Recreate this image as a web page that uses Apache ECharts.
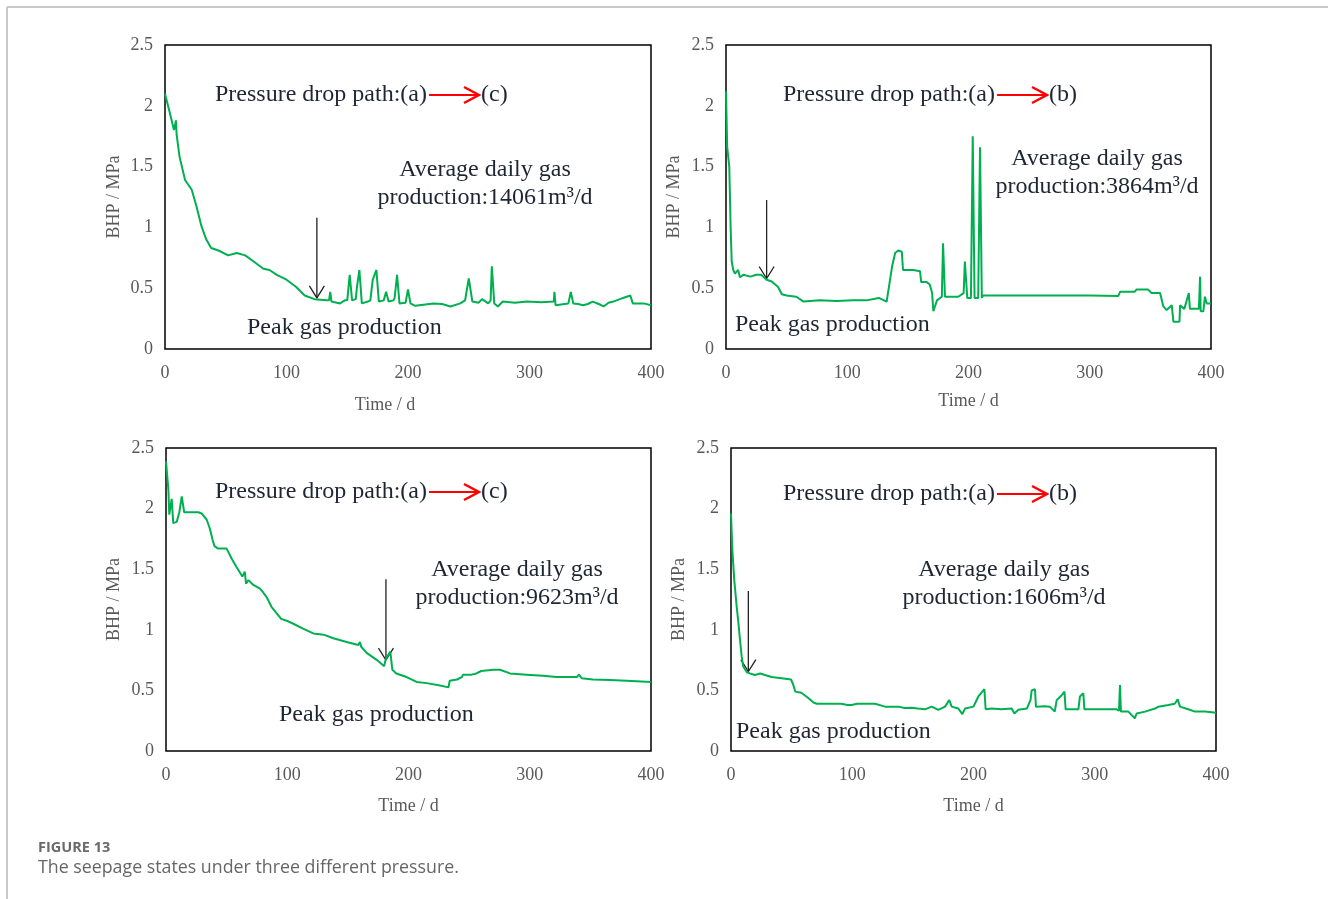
<!DOCTYPE html>
<html>
<head>
<meta charset="utf-8">
<title>BHP vs time</title>
<script src="https://cdn.jsdelivr.net/npm/echarts@6/dist/echarts.min.js"></script>
<style>
  html, body { margin: 0; padding: 0; background: #fff; }
  #chart { width: 1328px; height: 899px; }
</style>
</head>
<body>
<div id="chart"></div>
<script>
// Bottom-hole pressure (MPa) against production time (d), one array per well case.
const wellA = [[0,2.1],[4,1.94],[7.4,1.8],[9,1.88],[9.6,1.76],[12,1.58],[16.5,1.39],[22,1.31],[26,1.17],[30,1.01],[34,0.9],[38,0.83],[44,0.81],[52,0.77],[59,0.79],[66,0.77],[73,0.72],[81,0.66],[86,0.65],[92,0.61],[100,0.57],[108,0.51],[115,0.44],[123,0.41],[133,0.40],[135,0.40],[136,0.47],[137,0.39],[144,0.375],[148,0.40],[150,0.40],[152,0.61],[154,0.40],[157,0.41],[158,0.51],[160,0.65],[162,0.375],[167,0.39],[169,0.40],[171,0.57],[174,0.65],[176,0.39],[180,0.40],[182,0.47],[184,0.39],[188,0.40],[189,0.42],[191,0.61],[193,0.375],[198,0.38],[200,0.49],[202,0.375],[206,0.355],[221,0.375],[228,0.37],[235,0.35],[243,0.375],[247,0.40],[250,0.58],[253,0.39],[258,0.38],[261,0.41],[266,0.375],[268,0.40],[269,0.68],[271,0.375],[274,0.35],[278,0.39],[288,0.38],[298,0.39],[310,0.385],[320,0.39],[320.5,0.47],[321.5,0.36],[332,0.375],[334,0.47],[336,0.375],[340,0.37],[344,0.36],[348,0.37],[352,0.39],[357,0.37],[361,0.35],[365,0.38],[369,0.39],[377,0.42],[383,0.44],[385,0.375],[394,0.375],[400,0.36]];

const wellB = [[0,2.12],[1,1.66],[2.7,1.5],[3.8,1.01],[4.7,0.72],[6,0.65],[7.4,0.62],[10,0.65],[11.5,0.59],[14.3,0.61],[20,0.595],[25,0.61],[29,0.61],[33.5,0.57],[37.7,0.555],[43,0.51],[46,0.45],[50,0.44],[58,0.43],[64,0.39],[77.5,0.40],[91,0.395],[105,0.40],[116,0.40],[126,0.42],[132.5,0.39],[134,0.39],[137,0.68],[139.5,0.79],[142,0.81],[145,0.80],[146,0.65],[154.5,0.65],[160,0.64],[161,0.55],[165.5,0.55],[168,0.53],[170,0.46],[171,0.31],[174,0.40],[178,0.43],[179,0.87],[180.6,0.43],[191.6,0.43],[196,0.46],[197,0.72],[199,0.42],[202,0.42],[203.5,1.75],[205,0.42],[208,0.42],[209.5,1.66],[211,0.42],[212,0.44],[300,0.44],[301.6,0.436],[323.6,0.436],[325,0.47],[337,0.47],[338.7,0.49],[348,0.49],[351,0.46],[358,0.46],[360.7,0.35],[363.4,0.32],[367.6,0.36],[369,0.225],[374,0.225],[374.5,0.36],[376,0.36],[378,0.33],[381.7,0.46],[382.6,0.33],[390,0.33],[391,0.595],[391.5,0.31],[393.7,0.31],[395,0.43],[396.5,0.375],[400,0.375]];

const wellC = [[0,2.39],[2,2.15],[2.7,1.95],[4.7,2.08],[6,1.88],[8.8,1.89],[11,1.97],[13,2.1],[15,1.97],[20,1.97],[26.7,1.97],[29.4,1.96],[33.5,1.91],[36,1.84],[38.5,1.74],[40,1.69],[43,1.67],[50,1.67],[51.4,1.66],[54,1.59],[58,1.52],[63,1.44],[65,1.48],[66,1.38],[68,1.41],[72,1.37],[77.5,1.34],[80,1.31],[83,1.27],[87,1.19],[91,1.14],[95,1.09],[99.5,1.075],[105,1.05],[113,1.01],[121.5,0.97],[130,0.96],[138,0.93],[149,0.9],[158.6,0.875],[160,0.9],[161,0.86],[162,0.85],[165.5,0.81],[174,0.75],[180,0.7],[181,0.75],[182.5,0.78],[185,0.82],[186,0.83],[186.7,0.67],[190,0.64],[198.5,0.61],[206.7,0.57],[215,0.56],[226,0.54],[233,0.525],[234,0.58],[240,0.59],[244,0.61],[245,0.63],[252,0.63],[256,0.64],[260,0.66],[270,0.67],[275.5,0.67],[283.7,0.64],[297.5,0.63],[311,0.62],[322,0.61],[338.7,0.61],[340.6,0.63],[342.8,0.6],[352,0.59],[366,0.586],[380,0.58],[400,0.57]];

const wellD = [[0,1.96],[1.1,1.66],[2.7,1.41],[4.7,1.19],[6,1.07],[7.4,0.92],[8.8,0.78],[10,0.7],[13,0.65],[15.7,0.64],[19.8,0.627],[24,0.64],[28,0.627],[33.5,0.61],[41.8,0.6],[49.5,0.59],[51.4,0.545],[53,0.49],[58,0.48],[64,0.435],[68,0.4],[70.7,0.39],[77.5,0.39],[91,0.39],[96,0.38],[99.5,0.38],[104,0.39],[110.5,0.39],[118.8,0.39],[127,0.366],[138,0.366],[143,0.355],[149,0.357],[154,0.35],[160,0.344],[165.5,0.366],[171,0.34],[176.5,0.366],[180,0.42],[182,0.366],[187.5,0.35],[190.8,0.305],[193,0.35],[200,0.366],[204,0.45],[209,0.51],[210,0.344],[215,0.35],[223,0.344],[231.5,0.35],[233.7,0.31],[237,0.34],[244,0.35],[247,0.42],[248,0.5],[250.7,0.51],[251.5,0.366],[259,0.37],[263,0.366],[267,0.325],[268.6,0.42],[272.7,0.46],[275,0.49],[276,0.344],[286.5,0.344],[287.8,0.45],[290.6,0.476],[291.4,0.344],[303,0.344],[318,0.344],[320,0.333],[320.8,0.545],[321.6,0.325],[327.7,0.325],[333,0.27],[334.6,0.31],[341.5,0.325],[349.7,0.35],[352.5,0.366],[360.7,0.38],[366,0.39],[368.4,0.426],[370.3,0.366],[377,0.344],[382.7,0.325],[391,0.325],[400,0.316]];

// Peak-production markers: [day, arrow tail BHP, arrow tip BHP]
const peakA = [[125, 1.08, 0.42]];
const peakB = [[33.5, 1.225, 0.58]];
const peakC = [[181.4, 1.417, 0.75]];
const peakD = [[14.3, 1.32, 0.655]];

// Annotation text per panel
const pathTargets = ['(c)', '(b)', '(c)', '(b)'];
const avgProduction = ['14061', '3864', '9623', '1606'];

const timeTicks = { min: 0, max: 400, interval: 100 };
const bhpTicks = { min: 0, max: 2.5, interval: 0.5 };

const SERIF = '"Liberation Serif", "Times New Roman", serif';
const GREEN = '#00B050';
const TICK_GRAY = '#595959';
const INK = '#1f2633';

const grids = [
  { left: 165, top: 45, width: 486, height: 304 },
  { left: 726, top: 45, width: 485, height: 304 },
  { left: 166, top: 448, width: 485, height: 303 },
  { left: 731, top: 448, width: 485, height: 303 }
];
const xNameGap = [47, 43, 46, 46];
const xNamePad = [[0, 46, 0, 0], 0, 0, 0];
const yNameGap = [42, 43, 43, 43];

const labelStyle = { color: TICK_GRAY, fontFamily: SERIF, fontSize: 18 };

const xAxes = grids.map((g, i) => ({
  type: 'value', gridIndex: i,
  min: timeTicks.min, max: timeTicks.max, interval: timeTicks.interval,
  name: 'Time / d', nameLocation: 'middle', nameGap: xNameGap[i],
  nameTextStyle: Object.assign({ padding: xNamePad[i] }, labelStyle),
  axisLine: { show: false }, axisTick: { show: false }, splitLine: { show: false },
  axisLabel: Object.assign({ margin: 15 }, labelStyle)
}));
const yAxes = grids.map((g, i) => ({
  type: 'value', gridIndex: i,
  min: bhpTicks.min, max: bhpTicks.max, interval: bhpTicks.interval,
  name: 'BHP / MPa', nameLocation: 'middle', nameGap: yNameGap[i], nameRotate: 90,
  nameTextStyle: labelStyle,
  axisLine: { show: false }, axisTick: { show: false }, splitLine: { show: false },
  axisLabel: Object.assign({ margin: 12 }, labelStyle)
}));

const wells = [wellA, wellB, wellC, wellD];
const peaks = [peakA, peakB, peakC, peakD];

function drawPeakArrow(params, api) {
  const a = api.coord([api.value(0), api.value(1)]);
  const b = api.coord([api.value(0), api.value(2)]);
  const st = { stroke: '#222', lineWidth: 1.3, fill: null };
  return {
    type: 'group',
    children: [
      { type: 'line', shape: { x1: a[0], y1: a[1], x2: b[0], y2: b[1] }, style: st },
      { type: 'polyline', shape: { points: [[b[0] - 7.5, b[1] - 12], [b[0], b[1]], [b[0] + 7.5, b[1] - 12]] }, style: st }
    ]
  };
}

const series = [];
wells.forEach((w, i) => {
  series.push({
    type: 'line', xAxisIndex: i, yAxisIndex: i, data: w,
    showSymbol: false, silent: true, animation: false,
    lineStyle: { color: GREEN, width: 2 }
  });
  series.push({
    type: 'custom', xAxisIndex: i, yAxisIndex: i, data: peaks[i],
    renderItem: drawPeakArrow, silent: true, animation: false, clip: false
  });
});

// Text blocks inside each panel (pixel placement)
const pathPos = [[215, 95], [783, 95], [215, 492], [783, 494]];
const avgPos = [[485, 170], [1097, 159], [517, 570], [1004, 570]];
const peakPos = [[247, 328], [735, 325], [279, 715], [736, 732]];

const textFont = '24px ' + SERIF;
const graphics = [];

// figure frame lines
graphics.push({ type: 'line', shape: { x1: 7, y1: 7, x2: 1328, y2: 7 }, style: { stroke: '#c9c9c9', lineWidth: 2 } });
graphics.push({ type: 'line', shape: { x1: 7, y1: 7, x2: 7, y2: 899 }, style: { stroke: '#c9c9c9', lineWidth: 2 } });

for (let i = 0; i < 4; i++) {
  const [px, py] = pathPos[i];
  graphics.push({ type: 'text', style: { text: 'Pressure drop path:(a)', x: px, y: py, font: textFont, fill: INK, align: 'left', verticalAlign: 'middle' } });
  const ax0 = px + 214, ax1 = px + 264;
  graphics.push({ type: 'line', shape: { x1: ax0, y1: py, x2: ax1, y2: py }, style: { stroke: '#ff0000', lineWidth: 2.2 } });
  graphics.push({ type: 'polyline', shape: { points: [[ax1 - 15, py - 8], [ax1, py], [ax1 - 15, py + 8]] }, style: { stroke: '#ff0000', lineWidth: 2.4, fill: null } });
  graphics.push({ type: 'text', style: { text: pathTargets[i], x: ax1 + 2, y: py, font: textFont, fill: INK, align: 'left', verticalAlign: 'middle' } });

  const [cx, cy] = avgPos[i];
  graphics.push({ type: 'text', style: { text: 'Average daily gas', x: cx, y: cy, font: textFont, fill: INK, align: 'center', verticalAlign: 'middle' } });
  graphics.push({ type: 'text', style: { text: 'production:' + avgProduction[i] + 'm\u00B3/d', x: cx, y: cy + 28, font: textFont, fill: INK, align: 'center', verticalAlign: 'middle' } });

  const [kx, ky] = peakPos[i];
  graphics.push({ type: 'text', style: { text: 'Peak gas production', x: kx, y: ky, font: textFont, fill: INK, align: 'left', verticalAlign: 'middle' } });
}

// caption
graphics.push({ type: 'text', style: { text: 'FIGURE 13', x: 38, y: 848, font: 'bold 14.5px "Open Sans", sans-serif', fill: '#6a6a6a', align: 'left', verticalAlign: 'middle' } });
graphics.push({ type: 'text', style: { text: 'The seepage states under three different pressure.', x: 38, y: 868, font: '17.8px "Open Sans", sans-serif', fill: '#666666', align: 'left', verticalAlign: 'middle' } });

const chart = echarts.init(document.getElementById('chart'), null, { renderer: 'canvas' });
chart.setOption({
  backgroundColor: '#ffffff',
  animation: false,
  grid: grids.map(g => Object.assign({ show: true, borderColor: '#000', borderWidth: 1.5, backgroundColor: 'transparent', containLabel: false }, g)),
  xAxis: xAxes,
  yAxis: yAxes,
  series: series,
  graphic: graphics
});
</script>
</body>
</html>
